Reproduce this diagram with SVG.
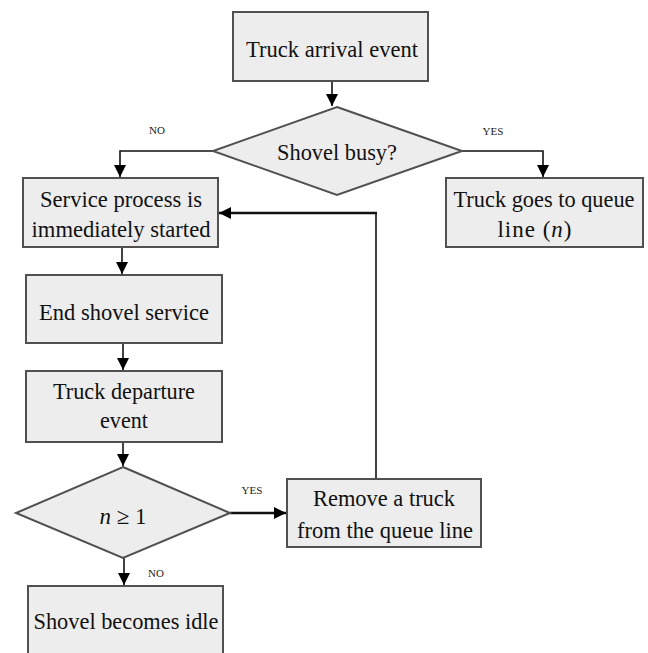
<svg xmlns="http://www.w3.org/2000/svg" width="648" height="653" viewBox="0 0 648 653">
<defs>
<marker id="ah" markerUnits="userSpaceOnUse" markerWidth="12" markerHeight="12" refX="12" refY="6" orient="auto">
<path d="M0,0 L12,6 L0,12 z" fill="#000"/>
</marker>
<style>
.box{fill:#ededed;stroke:#505050;stroke-width:2}
.t{font-family:"Liberation Serif","Times New Roman",serif;font-size:23px;fill:#111;text-anchor:middle}
.lbl{font-family:"Liberation Serif","Times New Roman",serif;font-size:11px;fill:#222;text-anchor:middle}
.c{fill:none;stroke:#111;stroke-width:1.6}
.ct{fill:none;stroke:#111;stroke-width:2.6}
</style>
</defs>
<rect width="648" height="653" fill="#fff"/>
<g id="connectors">
<path class="c" d="M332,81 V106" marker-end="url(#ah)"/>
<path class="c" d="M213,151 H120 V177" marker-end="url(#ah)"/>
<path class="c" d="M462,151 H543 V177" marker-end="url(#ah)"/>
<path class="c" d="M122,247 V274" marker-end="url(#ah)"/>
<path class="c" d="M123,343 V370" marker-end="url(#ah)"/>
<path class="c" d="M123,442 V466" marker-end="url(#ah)"/>
<path class="c" d="M124,558 V585" marker-end="url(#ah)"/>
<path class="ct" d="M230,513 H286" marker-end="url(#ah)"/>
<path class="c" d="M376,479 V213"/>
<path class="ct" d="M377,213 H219" marker-end="url(#ah)"/>
<text class="lbl" x="157" y="134">NO</text>
<text class="lbl" x="493" y="135">YES</text>
<text class="lbl" x="252" y="494">YES</text>
<text class="lbl" x="156" y="577">NO</text>
</g>
<g id="arrival">
<rect class="box" x="233" y="12" width="195" height="69"/>
<text class="t" x="332" y="57" textLength="172" lengthAdjust="spacingAndGlyphs">Truck arrival event</text>
</g>
<g id="busy">
<polygon class="box" points="337,107 462,151 337,195 213,151"/>
<text class="t" x="337" y="160" textLength="120" lengthAdjust="spacingAndGlyphs">Shovel busy?</text>
</g>
<g id="service">
<rect class="box" x="23" y="178" width="195" height="69"/>
<text class="t" x="121" y="207" textLength="162" lengthAdjust="spacingAndGlyphs">Service process is</text>
<text class="t" x="121" y="237" textLength="179" lengthAdjust="spacingAndGlyphs">immediately started</text>
</g>
<g id="queue">
<rect class="box" x="446" y="178" width="197" height="69"/>
<text class="t" x="544" y="207" textLength="181" lengthAdjust="spacingAndGlyphs">Truck goes to queue</text>
<text class="t" x="535" y="237" font-size="25" letter-spacing="1">line (<tspan font-style="italic">n</tspan>)</text>
</g>
<g id="endservice">
<rect class="box" x="26" y="275" width="196" height="68"/>
<text class="t" x="124" y="320" textLength="170" lengthAdjust="spacingAndGlyphs">End shovel service</text>
</g>
<g id="departure">
<rect class="box" x="26" y="371" width="196" height="71"/>
<text class="t" x="124" y="399" textLength="142" lengthAdjust="spacingAndGlyphs">Truck departure</text>
<text class="t" x="124" y="428" textLength="48" lengthAdjust="spacingAndGlyphs">event</text>
</g>
<g id="ncheck">
<polygon class="box" points="123,467 230,513 123,558 16,513"/>
<text class="t" x="123" y="524" font-size="25"><tspan font-style="italic">n</tspan> ≥ 1</text>
</g>
<g id="remove">
<rect class="box" x="287" y="479" width="194" height="68"/>
<text class="t" x="384" y="506" textLength="142" lengthAdjust="spacingAndGlyphs">Remove a truck</text>
<text class="t" x="385" y="538" textLength="176" lengthAdjust="spacingAndGlyphs">from the queue line</text>
</g>
<g id="idle">
<rect class="box" x="28" y="586" width="195" height="80"/>
<text class="t" x="126" y="629" textLength="185" lengthAdjust="spacingAndGlyphs">Shovel becomes idle</text>
</g>
</svg>
